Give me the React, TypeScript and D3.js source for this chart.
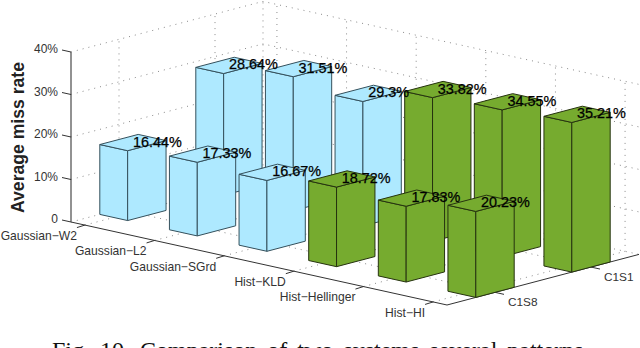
import * as d3 from 'd3';

const categories = ['Gaussian\u2212W2', 'Gaussian\u2212L2', 'Gaussian\u2212SGrd', 'Hist\u2212KLD', 'Hist\u2212Hellinger', 'Hist\u2212HI'];
const depthLabels = ['C1S8', 'C1S1'];
const c1s8 = [16.44, 17.33, 16.67, 18.72, 17.83, 20.23];
const c1s1 = [28.64, 31.51, 29.3, 33.82, 34.55, 35.21];
const zTicks = [0, 10, 20, 30, 40];

const FONT = '"Liberation Sans", Arial, sans-serif';
const barW = 0.4;
const origin: [number, number] = [71, 222];

// floor axes, in data units -> screen offset
const catX = d3.scaleLinear().domain([0, 5.4]).range([0, 376]);
const catY = d3.scaleLinear().domain([0, 5.4]).range([0, 83]);
const depX = d3.scaleLinear().domain([0, 2]).range([0, 192]);
const depY = d3.scaleLinear().domain([0, 2]).range([0, -50.6]);
const zPx = d3.scaleLinear().domain([0, 40]).range([0, -170]);

const project = (c: number, d: number, z = 0): [number, number] => [
  origin[0] + catX(c) + depX(d),
  origin[1] + catY(c) + depY(d) + zPx(z),
];
const poly = d3.line();

const Bar = ({ i, row, value, fill, edge }: any) => {
  const c0 = i;
  const c1 = i + barW;
  const d0 = row + 0.3;
  const d1 = row + 0.3 + barW;
  const faces = [
    [project(c0, d0), project(c1, d0), project(c1, d0, value), project(c0, d0, value)],
    [project(c1, d0), project(c1, d1), project(c1, d1, value), project(c1, d0, value)],
    [project(c0, d0, value), project(c1, d0, value), project(c1, d1, value), project(c0, d1, value)],
  ];
  return (
    <g>
      {faces.map((f, k) => (
        <path key={k} d={poly(f as any)! + 'Z'} fill={fill} stroke={edge} strokeWidth={1} strokeLinejoin="round" />
      ))}
    </g>
  );
};

export default function App() {
  const rows = [
    { values: c1s1, row: 1, fill: '#aee9ff', edge: '#34505c' },
    { values: c1s8, row: 0, fill: '#aee9ff', edge: '#34505c' },
  ];
  const grid: [number, number][][] = [];
  zTicks.forEach(z => {
    grid.push([project(0, 0, z), project(0, 2, z), project(5.4, 2, z)]);
  });
  depthLabels.forEach((_, j) => {
    grid.push([project(5.4, j + 0.5), project(0, j + 0.5), project(0, j + 0.5, 40)]);
  });
  categories.forEach((_, i) => {
    grid.push([project(i + 0.2, 0), project(i + 0.2, 2), project(i + 0.2, 2, 40)]);
  });
  grid.push([project(0, 2), project(0, 2, 40)]);

  return (
    <svg width={640} height={348} style={{ position: 'absolute', left: 0, top: 0, background: '#fff' }} fontFamily={FONT}>
      {grid.map((g, k) => (
        <path key={k} d={poly(g)!} fill="none" stroke="#8a8a8a" strokeWidth={1} strokeDasharray="1 5" />
      ))}

      <path d={poly([project(0, 0), project(5.4, 0), project(5.4, 2)])!} fill="none" stroke="#333" strokeWidth={1} />
      <path d={poly([project(0, 0), project(0, 0, 40)])!} fill="none" stroke="#777" strokeWidth={1.6} />

      {zTicks.map(z => {
        const [x, y] = project(0, 0, z);
        return (
          <g key={z}>
            <line x1={x - 9} y1={y - 2} x2={x} y2={y} stroke="#333" />
            <text x={x - 13} y={y - 3} dy="0.35em" textAnchor="end" fontSize={12} fill="#333">
              {z === 0 ? '0' : `${z}%`}
            </text>
          </g>
        );
      })}
      <text transform="translate(18,137.5) rotate(-90)" dy="0.35em" textAnchor="middle" fontSize={17.6} fontWeight="bold" fill="#222">
        Average miss rate
      </text>

      {categories.map((name, i) => {
        const [x, y] = project(i + 0.2, 0);
        return (
          <g key={name}>
            <line x1={x} y1={y} x2={x - 8} y2={y + 2.5} stroke="#333" />
            <text x={x - 8} y={y + 10.7} dy="0.35em" textAnchor="end" fontSize={12.1} fill="#333">
              {name}
            </text>
          </g>
        );
      })}
      {depthLabels.map((name, j) => {
        const [x, y] = project(5.4, j + 0.5);
        return (
          <g key={name}>
            <line x1={x} y1={y} x2={x + 9} y2={y + 2} stroke="#333" />
            <text x={x + 13} y={y + 10} dy="0.35em" fontSize={11.8} fill="#333">
              {name}
            </text>
          </g>
        );
      })}

      {rows.map(r => (
        <g key={r.row}>
          {r.values.map((v, i) => (
            <Bar key={i} i={i} row={r.row} value={v} fill={i > 2 ? '#76ab2f' : r.fill} edge={i > 2 ? '#26330f' : r.edge} />
          ))}
        </g>
      ))}

      {rows.map(r =>
        r.values.map((v, i) => {
          const [x, y] = project(i + barW / 2, r.row + 0.3 + barW / 2, v);
          return (
            <text key={`${r.row}-${i}`} x={x} y={y - 1} dy="0.35em" fontSize={14.4} fill="#000" stroke="#000" strokeWidth={0.25}>
              {`${v}%`}
            </text>
          );
        })
      )}

      {/* caption is cropped by the bottom edge in the reference too. Only the letter tops show,
          so the words after "Comparison of" are a guess fitted to those tops, not a reading */}
      <text x={52} y={358} fontFamily='"Liberation Serif", serif' fontSize={24} wordSpacing={4} fill="#111">
        Fig. 10. Comparison of two systems several patterns
      </text>
    </svg>
  );
}
